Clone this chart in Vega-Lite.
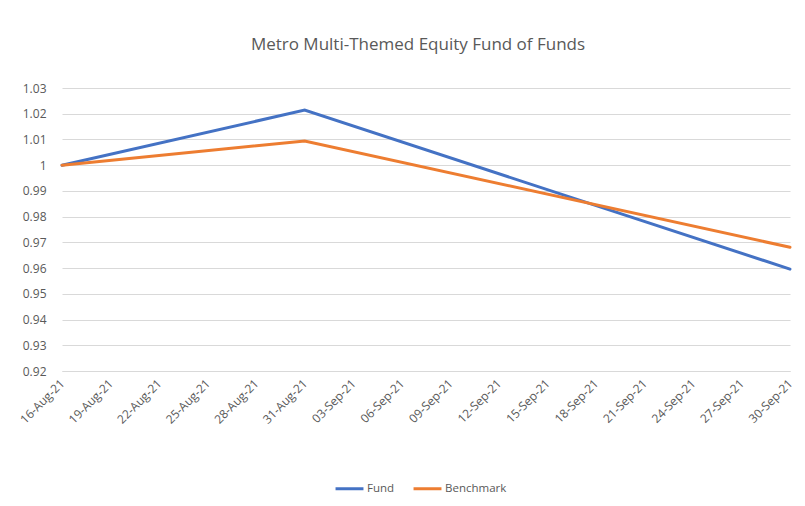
{
  "$schema": "https://vega.github.io/schema/vega-lite/v6.json",
  "width": 728,
  "height": 283,
  "autosize": {"type": "none"},
  "padding": {"left": 62, "top": 88, "right": 15, "bottom": 135},
  "background": "white",
  "title": {
    "text": "Metro Multi-Themed Equity Fund of Funds",
    "font": "Open Sans",
    "fontSize": 17,
    "fontWeight": "normal",
    "color": "#595959",
    "offset": 28,
    "anchor": "middle",
    "dx": -8
  },
  "data": {
    "values": [
      {"date": "2021-08-16", "series": "Fund", "value": 1.0},
      {"date": "2021-08-31", "series": "Fund", "value": 1.0214},
      {"date": "2021-09-30", "series": "Fund", "value": 0.9596},
      {"date": "2021-08-16", "series": "Benchmark", "value": 1.0},
      {"date": "2021-08-31", "series": "Benchmark", "value": 1.0094},
      {"date": "2021-09-30", "series": "Benchmark", "value": 0.9681}
    ]
  },
  "mark": {"type": "line", "strokeWidth": 3, "strokeCap": "round"},
  "encoding": {
    "x": {
      "field": "date",
      "type": "temporal",
      "scale": {
        "type": "utc",
        "domain": [
          {"year": 2021, "month": 8, "date": 16, "utc": true},
          {"year": 2021, "month": 9, "date": 30, "utc": true}
        ]
      },
      "axis": {
        "title": null,
        "format": "%d-%b-%y",
        "values": [
          {"year": 2021, "month": 8, "date": 16, "utc": true},
          {"year": 2021, "month": 8, "date": 19, "utc": true},
          {"year": 2021, "month": 8, "date": 22, "utc": true},
          {"year": 2021, "month": 8, "date": 25, "utc": true},
          {"year": 2021, "month": 8, "date": 28, "utc": true},
          {"year": 2021, "month": 8, "date": 31, "utc": true},
          {"year": 2021, "month": 9, "date": 3, "utc": true},
          {"year": 2021, "month": 9, "date": 6, "utc": true},
          {"year": 2021, "month": 9, "date": 9, "utc": true},
          {"year": 2021, "month": 9, "date": 12, "utc": true},
          {"year": 2021, "month": 9, "date": 15, "utc": true},
          {"year": 2021, "month": 9, "date": 18, "utc": true},
          {"year": 2021, "month": 9, "date": 21, "utc": true},
          {"year": 2021, "month": 9, "date": 24, "utc": true},
          {"year": 2021, "month": 9, "date": 27, "utc": true},
          {"year": 2021, "month": 9, "date": 30, "utc": true}
        ],
        "labelAngle": -45,
        "labelAlign": "right",
        "labelBaseline": "middle",
        "labelPadding": 10,
        "labelFont": "Open Sans",
        "labelFontSize": 12,
        "labelColor": "#595959",
        "labelOverlap": false,
        "labelFlush": false,
        "grid": false,
        "ticks": false,
        "domain": true,
        "domainColor": "#d9d9d9",
        "domainWidth": 1
      }
    },
    "y": {
      "field": "value",
      "type": "quantitative",
      "scale": {"domain": [0.92, 1.03], "zero": false, "nice": false},
      "axis": {
        "title": null,
        "values": [0.92, 0.93, 0.94, 0.95, 0.96, 0.97, 0.98, 0.99, 1, 1.01, 1.02, 1.03],
        "format": "~g",
        "labelFont": "Open Sans",
        "labelFontSize": 12,
        "labelColor": "#595959",
        "labelPadding": 16,
        "ticks": false,
        "domain": false,
        "grid": true,
        "gridColor": "#d9d9d9",
        "gridWidth": 1
      }
    },
    "color": {
      "field": "series",
      "type": "nominal",
      "scale": {"domain": ["Fund", "Benchmark"], "range": ["#4472C4", "#ED7D31"]},
      "legend": {
        "title": null,
        "orient": "none",
        "legendX": 272,
        "legendY": 385,
        "direction": "horizontal",
        "symbolType": "stroke",
        "symbolStrokeWidth": 3,
        "symbolSize": 780,
        "labelFont": "Open Sans",
        "labelFontSize": 11.5,
        "labelColor": "#595959",
        "columnPadding": 12,
        "labelOffset": 2
      }
    }
  },
  "config": {"view": {"stroke": null}}
}
